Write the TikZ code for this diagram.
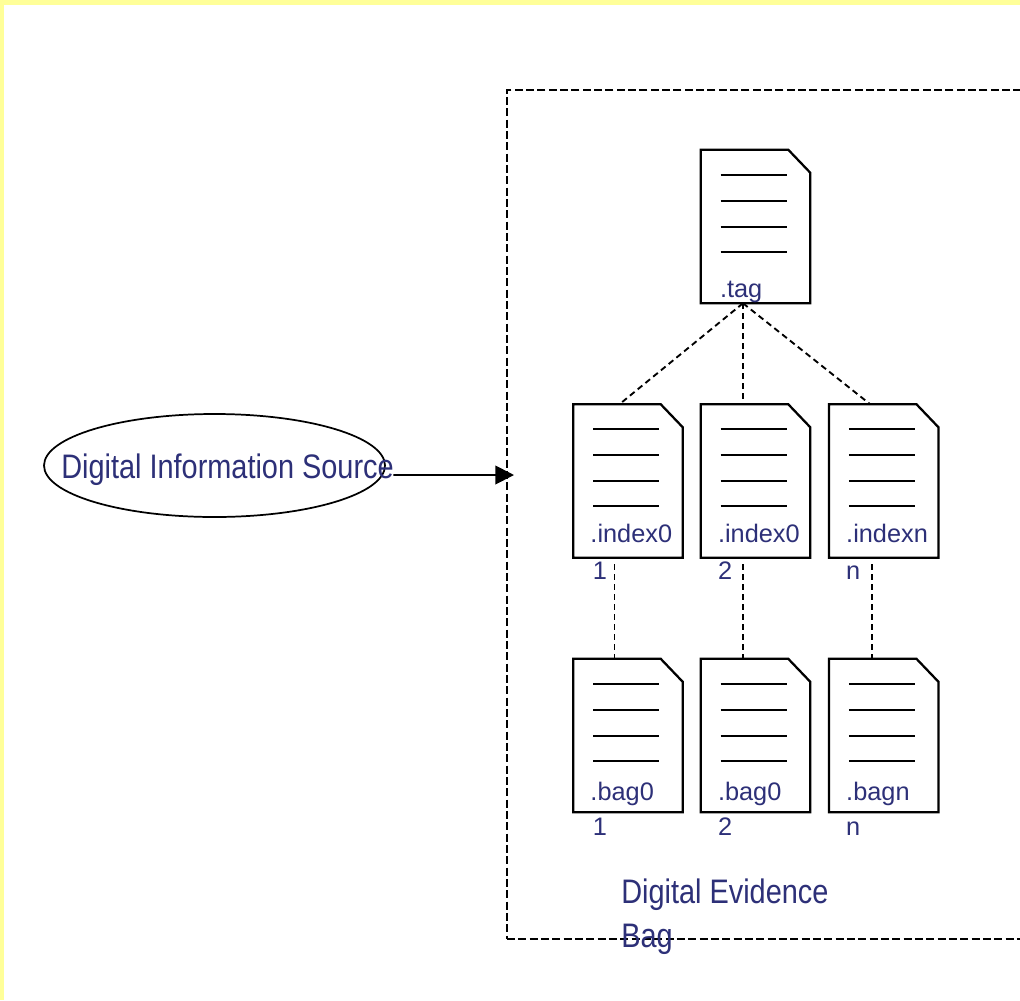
\documentclass[tikz,border=0pt]{standalone}
\usepackage{fontspec}
\setmainfont{Liberation Sans}
\newfontfamily\narrowsans{Liberation Sans}[FakeStretch=0.85]
\usepackage{tikz}
\usetikzlibrary{positioning, shapes.geometric, arrows.meta, calc}
\definecolor{debnavy}{RGB}{45,48,120}
\definecolor{pageyellow}{RGB}{255,255,153}

\begin{document}
\begin{tikzpicture}[
  x=0.75pt, y=0.75pt,
  node distance=75.75pt and 13.5pt,
  docfile/.style={inner sep=0pt, minimum width=81.75pt, minimum height=114.75pt},
  doctext/.style={inner sep=0pt, anchor=base west, text=debnavy, font=\fontsize{19}{22}\selectfont},
  bigtext/.style={inner sep=0pt, text=debnavy, align=left, font=\narrowsans\fontsize{25.5}{33}\selectfont},
  outline/.style={line width=1.7pt},
  link/.style={dash pattern=on 4.5pt off 3pt, line width=1.4pt},
  flow/.style={-{Triangle[length=14pt,width=14pt]}, line width=1.4pt}
]
\useasboundingbox (0,0) rectangle (1020,-1000);
\fill[white] (0,0) rectangle (1020,-1000);
\fill[pageyellow] (0,0) rectangle (1020,-5);
\fill[pageyellow] (0,0) rectangle (4,-1000);

% evidence bag frame
\node[draw, dash pattern=on 6pt off 2.5pt, line width=1.4pt, inner sep=0pt,
  minimum width=393pt, minimum height=636.75pt, anchor=north west] (bag) at (506,-89) {};
\node[bigtext, anchor=north west] (bagtxt) at (621,-879) {Digital Evidence\\Bag};

% files
\node[docfile] (tag) at (755.5,-226.5) {};
\node[docfile, below=of tag] (ix2) {};
\node[docfile, left=of ix2] (ix1) {};
\node[docfile, right=14pt of ix2] (ixn) {};
\node[docfile, below=of ix1] (bg1) {};
\node[docfile, below=of ix2] (bg2) {};
\node[docfile, below=of ixn] (bgn) {};

\foreach \d in {tag,ix1,ix2,ixn,bg1,bg2,bgn} {
  \draw[outline] (\d.north west) -- ([xshift=-16.5pt]\d.north east)
    -- ([yshift=-17.25pt]\d.north east) -- (\d.south east) -- (\d.south west) -- cycle;
  \foreach \h in {18.75pt,38.25pt,57.75pt,76.5pt}
    \draw[outline] ([xshift=15pt,yshift=-\h]\d.north west) -- ([xshift=64.5pt,yshift=-\h]\d.north west);
}

% file names
\node[doctext] (tagtxt) at ([shift={(14.25pt,4.5pt)}]tag.south west) {.tag};
\node[doctext] (ix1txt) at ([shift={(12.75pt,11.25pt)}]ix1.south west) {.index0};
\node[doctext] (ix1num) at ([shift={(14.5pt,-16.5pt)}]ix1.south west) {1};
\node[doctext] (ix2txt) at ([shift={(12.75pt,11.25pt)}]ix2.south west) {.index0};
\node[doctext] (ix2num) at ([shift={(12.75pt,-16.5pt)}]ix2.south west) {2};
\node[doctext] (ixntxt) at ([shift={(12.75pt,11.25pt)}]ixn.south west) {.indexn};
\node[doctext] (ixnnum) at ([shift={(12.75pt,-16.5pt)}]ixn.south west) {n};
\node[doctext] (bg1txt) at ([shift={(12.75pt,9pt)}]bg1.south west) {.bag0};
\node[doctext] (bg1num) at ([shift={(14.5pt,-17.25pt)}]bg1.south west) {1};
\node[doctext] (bg2txt) at ([shift={(12.75pt,9pt)}]bg2.south west) {.bag0};
\node[doctext] (bg2num) at ([shift={(12.75pt,-17.25pt)}]bg2.south west) {2};
\node[doctext] (bgntxt) at ([shift={(12.75pt,9pt)}]bgn.south west) {.bagn};
\node[doctext] (bgnnum) at ([shift={(12.75pt,-17.25pt)}]bgn.south west) {n};

% links
\draw[link] ([xshift=-9.4pt]tag.south) -- ([xshift=-6.4pt]ix1.north);
\draw[link] ([xshift=-9.4pt]tag.south) -- ([xshift=-9.4pt]ix2.north);
\draw[link] ([xshift=-9.4pt]tag.south) -- ([xshift=-10.1pt]ixn.north);
\draw[link] ([shift={(-10.1pt,-5pt)}]ix1.south) -- ([xshift=-10.1pt]bg1.north);
\draw[link] ([shift={(-9.4pt,-5pt)}]ix2.south) -- ([xshift=-9.4pt]bg2.north);
\draw[link] ([shift={(-8.6pt,-5pt)}]ixn.south) -- ([xshift=-8.6pt]bgn.north);

% source
\node[draw, ellipse, line width=1.3pt, minimum width=255.75pt, minimum height=77.25pt,
  inner sep=0pt] (src) at (214.5,-465.5) {};
\node[bigtext, anchor=base west] (srctxt) at (61,-478) {Digital Information Source};
\coordinate (entry) at (514,-475);
\draw[flow] ([shift={(5.6pt,-7.1pt)}]src.east) -- (entry);
\end{tikzpicture}
\end{document}
